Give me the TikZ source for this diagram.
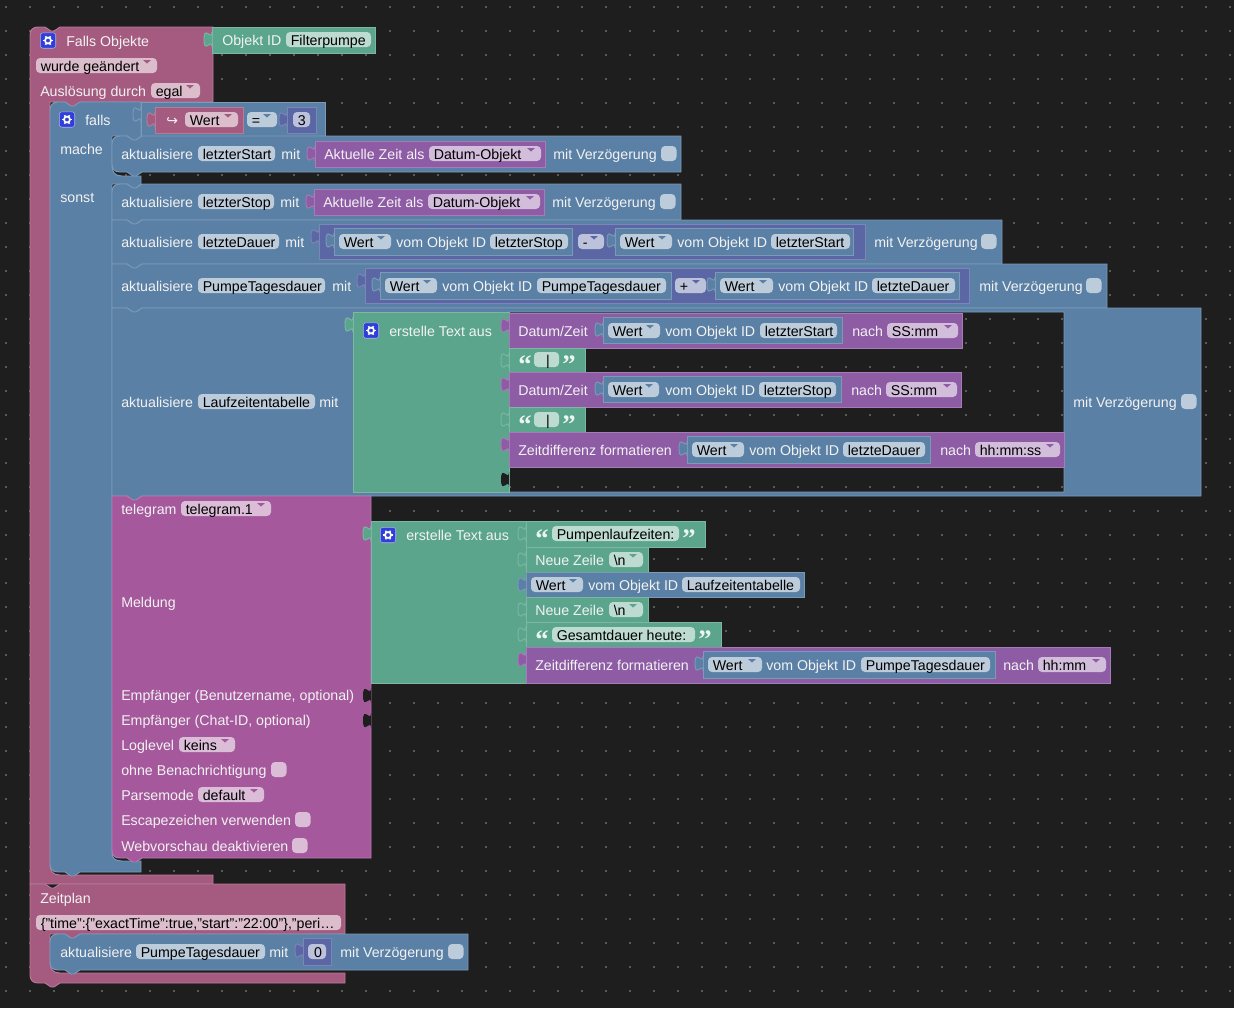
\documentclass[tikz,border=0pt]{standalone}
\usepackage{fontspec}
\setmainfont{Liberation Sans}
\newfontfamily\quotefont{Liberation Serif}
\newfontfamily\symfont{DejaVu Sans}
\definecolor{bgdark}{HTML}{1E1E1E}
\definecolor{griddot}{HTML}{5A5A5A}
\definecolor{pk}{HTML}{A55B80}
\definecolor{bl}{HTML}{5B80A5}
\definecolor{gr}{HTML}{5BA58C}
\definecolor{pu}{HTML}{8E5BA5}
\definecolor{mg}{HTML}{A5599C}
\definecolor{ind}{HTML}{5B67A5}
\definecolor{cogblue}{HTML}{2F3FD8}
\tikzset{
	blockbox/.style={fill=#1, draw=#1!80!white, line width=0.7pt, even odd rule},
	labeltxt/.style={anchor=base west, inner sep=0pt, text=white!95!black, font=\fontsize{10.65}{12}\selectfont},
	pilltxt/.style={anchor=base west, inner sep=0pt, text=black, font=\fontsize{10.65}{12}\selectfont},
	quotetxt/.style={anchor=base, inner sep=0pt, text=white!88!gr, font=\quotefont\bfseries\fontsize{20}{20}\selectfont},
	cogbox/.style={draw=white!60!cogblue, fill=cogblue, rounded corners=2pt, line width=0.4pt, minimum size=11.6pt, inner sep=0pt},
}
\newcommand{\lab}[3]{\node[labeltxt] (lab-#1-#2) at ({#1},{#2+5}) {#3};}
\newcommand{\pill}[5]{
	\fill[#1!40!white, rounded corners=3pt] ({#2},{#4-8}) rectangle ({#3},{#4+7});
	\node[pilltxt] (pill-#2-#4) at ({#2+4.5},{#4+5}) {#5};
}
\newcommand{\dpill}[5]{
	\pill{#1}{#2}{#3}{#4}{#5}
	\fill[#1] ({#3-14},{#4-6}) -- ({#3-6},{#4-6}) -- ({#3-10},{#4-2.5}) -- cycle;
}
\newcommand{\chk}[3]{\fill[#1!40!white, rounded corners=3pt] ({#2},{#3-8}) rectangle ({#2+15.5},{#3+7});}
\newcommand{\tabin}[3]{
	\draw[blockbox=#1] ({#2},{#3}) .. controls ({#2},{#3+10}) and ({#2-8},{#3-8}) .. ({#2-8},{#3+7.5})
		.. controls ({#2-8},{#3+23}) and ({#2},{#3+5}) .. ({#2},{#3+15});
}
\newcommand{\tabhole}[2]{
	\fill[bgdark] ({#1},{#2}) .. controls ({#1},{#2+10}) and ({#1-8},{#2-8}) .. ({#1-8},{#2+7.5})
		.. controls ({#1-8},{#2+23}) and ({#1},{#2+5}) .. ({#1},{#2+15}) -- cycle;
}
\newcommand{\valuebox}[5]{
	\tabin{#1}{#2}{#3+5}
	\draw[blockbox=#1] ({#2},{#3}) rectangle ({#4},{#5});
}
% colour, x1, y1, x2, y2, corner top, corner bottom
\newcommand{\stmt}[8][]{
	\draw[blockbox=#2] ({#3+15},{#4}) -- ({#3+21},{#4+4}) -- ({#3+24},{#4+4}) -- ({#3+30},{#4}) -- ({#5},{#4}) -- ({#5},{#6})
		-- ({#3+30},{#6}) -- ({#3+24},{#6+4}) -- ({#3+21},{#6+4}) -- ({#3+15},{#6}) -- ({#3+#8},{#6})
		.. controls ({#3+#8/3},{#6}) and ({#3},{#6-#8/3}) .. ({#3},{#6-#8}) -- ({#3},{#4+#7})
		.. controls ({#3},{#4+#7/3}) and ({#3+#7/3},{#4}) .. ({#3+#7},{#4}) -- cycle #1;
}
\newcommand{\cogbtn}[2]{
	\node[cogbox] (cog-#1-#2) at ({#1},{#2}) {};
	\foreach \ang in {0,60,...,300}
		\draw[white, line width=1.1pt] ({#1+2.5*cos(\ang)},{#2+2.5*sin(\ang)}) -- ({#1+5*cos(\ang)},{#2+5*sin(\ang)});
	\draw[white, line width=1.3pt] (#1,#2) circle[radius=3];
}
\newcommand{\quotes}[3]{
	\node[quotetxt] (qa-#1-#3) at ({#1},{#3+13}) {“};
	\node[quotetxt] (qb-#2-#3) at ({#2},{#3+13}) {”};
}
\newcommand{\objval}[7]{% x1 x2 y, pill x1 x2, text x, pill end
	\dpill{bl}{#1}{#2}{#3}{Wert}
	\lab{#4}{#3}{vom Objekt ID}
	\pill{bl}{#5}{#6}{#3}{#7}
}

\begin{document}
\begin{tikzpicture}[x=0.75pt,y=-0.75pt]
	\fill[bgdark] (0,0) rectangle (1234,1008);
	\useasboundingbox (0,0) rectangle (1234,1008);
	\foreach \dx in {6,30,...,1230}
		\foreach \dy in {7,31,...,1003}
			\fill[griddot] (\dx-0.7,\dy-0.7) rectangle (\dx+0.7,\dy+0.7);

	% hat block
	\draw[blockbox=pk] (45,27) -- (51,31) -- (54,31) -- (60,27) -- (213,27) -- (213,102) -- (80,102) -- (74,106) -- (71,106) -- (65,102)
		-- (50,102) -- (50,865) .. controls (50,871) and (53,875) .. (60,875) -- (213,875) -- (213,884) -- (30,884)
		-- (30,35) .. controls (30,30) and (33,27) .. (38,27) -- cycle;
	\cogbtn{48}{40.5}
	\lab{66}{41}{Falls Objekte}
	\valuebox{gr}{212}{27}{375}{53}
	\lab{222}{40}{Objekt ID}
	\pill{gr}{286}{371}{40}{Filterpumpe}
	\dpill{pk}{36}{157}{66}{wurde geändert}
	\lab{40}{91}{Auslösung durch}
	\dpill{pk}{151}{200}{91}{egal}

	% falls block
	\draw[blockbox=bl] (65,102) -- (71,106) -- (74,106) -- (80,102) -- (141,102) -- (141,136) -- (142,136) -- (136,140) -- (133,140) -- (127,136)
		-- (112,136) -- (112,166) .. controls (112,172) and (115,176) .. (122,176) -- (141,176) -- (141,184) -- (136,188) -- (133,188) -- (127,184)
		-- (112,184) -- (112,853) .. controls (112,858) and (115,861) .. (122,861) -- (141,861) -- (141,872) -- (80,872) -- (74,876) -- (71,876) -- (65,872)
		-- (58,872) .. controls (53,872) and (50,869) .. (50,864) -- (50,110) .. controls (50,105) and (53,102) .. (58,102) -- cycle;
	\cogbtn{67}{119.5}
	\lab{85}{120}{falls}
	\lab{60}{149}{mache}
	\lab{60}{197}{sonst}
	\valuebox{bl}{141}{102}{325}{136}
	\valuebox{pk}{155}{107}{243}{133}
	\node[labeltxt, font=\symfont\fontsize{10.5}{12}\selectfont] (arrow-wert) at (166,125) {↪};
	\dpill{pk}{185}{238}{120}{Wert}
	\dpill{bl}{247}{277}{120}{=}
	\valuebox{ind}{287}{107}{316}{133}
	\pill{ind}{293}{310}{120}{3}

	% mache
	\stmt{bl}{112}{136}{681}{172}{8}{8}
	\lab{121}{154}{aktualisiere}
	\pill{bl}{198}{275}{154}{letzterStart}
	\lab{281}{154}{mit}
	\valuebox{pu}{315}{141}{545}{167}
	\lab{324}{154}{Aktuelle Zeit als}
	\dpill{pu}{429}{541}{154}{Datum-Objekt}
	\lab{553}{154}{mit Verzögerung}
	\chk{bl}{661}{154}

	% sonst
	\stmt{bl}{112}{184}{681}{220}{8}{0}
	\lab{121}{202}{aktualisiere}
	\pill{bl}{198}{274}{202}{letzterStop}
	\lab{280}{202}{mit}
	\valuebox{pu}{314}{189}{544}{215}
	\lab{323}{202}{Aktuelle Zeit als}
	\dpill{pu}{428}{540}{202}{Datum-Objekt}
	\lab{552}{202}{mit Verzögerung}
	\chk{bl}{660}{202}

	\stmt{bl}{112}{220}{1002}{264}{0}{0}
	\lab{121}{242}{aktualisiere}
	\pill{bl}{198}{279}{242}{letzteDauer}
	\lab{285}{242}{mit}
	\valuebox{ind}{319}{224}{865}{259}
	\valuebox{bl}{334}{228}{572}{255}
	\objval{339}{391}{242}{396}{490}{568}{letzterStop}
	\dpill{ind}{578}{604}{242}{-}
	\valuebox{bl}{615}{228}{853}{255}
	\objval{620}{672}{242}{677}{771}{850}{letzterStart}
	\lab{874}{242}{mit Verzögerung}
	\chk{bl}{981}{242}

	\stmt{bl}{112}{264}{1107}{308}{0}{0}
	\lab{121}{286}{aktualisiere}
	\pill{bl}{198}{325}{286}{PumpeTagesdauer}
	\lab{332}{286}{mit}
	\valuebox{ind}{365}{268}{969}{303}
	\valuebox{bl}{380}{272}{671}{299}
	\objval{385}{437}{286}{442}{537}{666}{PumpeTagesdauer}
	\dpill{ind}{675}{706}{286}{+}
	\valuebox{bl}{715}{272}{959}{299}
	\objval{720}{773}{286}{778}{872}{955}{letzteDauer}
	\lab{979}{286}{mit Verzögerung}
	\chk{bl}{1086}{286}

	\stmt[(509,312) rectangle (1064,492)]{bl}{112}{308}{1201}{496}{0}{0}
	\lab{121}{402}{aktualisiere}
	\pill{bl}{198}{315}{402}{Laufzeitentabelle}
	\lab{319}{402}{mit}
	\lab{1073}{402}{mit Verzögerung}
	\chk{bl}{1181}{402}
	\valuebox{gr}{353}{312}{509}{492}
	\cogbtn{371}{330.5}
	\lab{389}{331}{erstelle Text aus}
	\valuebox{pu}{509}{313}{962}{348}
	\lab{518}{331}{Datum/Zeit}
	\valuebox{bl}{603}{317}{842}{343}
	\objval{608}{660}{331}{665}{760}{837}{letzterStart}
	\lab{852}{331}{nach}
	\dpill{pu}{887}{958}{331}{SS:mm}
	\valuebox{gr}{509}{348}{585}{372}
	\quotes{525}{569}{360}
	\pill{gr}{534}{559}{360}{\hspace{5.5pt}|}
	\valuebox{pu}{509}{372}{961}{407}
	\lab{518}{390}{Datum/Zeit}
	\valuebox{bl}{603}{376}{841}{402}
	\objval{608}{659}{390}{665}{759}{836}{letzterStop}
	\lab{851}{390}{nach}
	\dpill{pu}{886}{957}{390}{SS:mm}
	\valuebox{gr}{509}{407}{585}{432}
	\quotes{525}{569}{420}
	\pill{gr}{534}{559}{420}{\hspace{5.5pt}|}
	\valuebox{pu}{509}{432}{1064}{467}
	\lab{518}{450}{Zeitdifferenz formatieren}
	\valuebox{bl}{687}{436}{930}{463}
	\objval{692}{744}{450}{749}{843}{925}{letzteDauer}
	\lab{940}{450}{nach}
	\dpill{pu}{975}{1060}{450}{hh:mm:ss}
	\tabhole{509}{472}

	% telegram
	\stmt{mg}{112}{496}{371}{858}{0}{8}
	\lab{121}{509}{telegram}
	\dpill{mg}{181}{271}{509}{telegram.1}
	\lab{121}{602}{Meldung}
	\valuebox{gr}{371}{521}{526}{683}
	\cogbtn{388}{535}
	\lab{406}{535}{erstelle Text aus}
	\valuebox{gr}{526}{521}{705}{547}
	\quotes{542}{689}{534}
	\pill{gr}{552}{679}{534}{Pumpenlaufzeiten:}
	\valuebox{gr}{526}{547}{648}{572}
	\lab{535}{560}{Neue Zeile}
	\dpill{gr}{609}{643}{560}{\textbackslash n}
	\valuebox{bl}{526}{572}{804}{597}
	\objval{531}{583}{585}{588}{682}{800}{Laufzeitentabelle}
	\valuebox{gr}{526}{597}{648}{622}
	\lab{535}{610}{Neue Zeile}
	\dpill{gr}{609}{643}{610}{\textbackslash n}
	\valuebox{gr}{526}{622}{721}{647}
	\quotes{542}{705}{635}
	\pill{gr}{552}{695}{635}{Gesamtdauer heute:}
	\valuebox{pu}{526}{647}{1110}{683}
	\lab{535}{665}{Zeitdifferenz formatieren}
	\valuebox{bl}{703}{651}{995}{678}
	\objval{708}{762}{665}{766}{861}{990}{PumpeTagesdauer}
	\lab{1003}{665}{nach}
	\dpill{pu}{1038}{1106}{665}{hh:mm}
	\lab{121}{695}{Empfänger (Benutzername, optional)}
	\tabhole{371}{688}
	\lab{121}{720}{Empfänger (Chat-ID, optional)}
	\tabhole{371}{713}
	\lab{121}{745}{Loglevel}
	\dpill{mg}{179}{235}{745}{keins}
	\lab{121}{770}{ohne Benachrichtigung}
	\chk{mg}{271}{770}
	\lab{121}{795}{Parsemode}
	\dpill{mg}{198}{264}{795}{default}
	\lab{121}{820}{Escapezeichen verwenden}
	\chk{mg}{295}{820}
	\lab{121}{846}{Webvorschau deaktivieren}
	\chk{mg}{292}{846}

	% zeitplan
	\draw[blockbox=pk] (45,884) -- (51,888) -- (54,888) -- (60,884) -- (345,884) -- (345,934) -- (80,934) -- (74,938) -- (71,938) -- (65,934)
		-- (50,934) -- (50,963) .. controls (50,969) and (53,973) .. (60,973) -- (345,973) -- (345,983) -- (60,983) -- (54,987) -- (51,987) -- (45,983)
		-- (38,983) .. controls (33,983) and (30,980) .. (30,975) -- (30,884) -- cycle;
	\lab{40}{898}{Zeitplan}
	\pill{pk}{36}{341}{923}{\{"time":\{"exactTime":true,"start":"22:00"\},"peri…}
	\stmt{bl}{50}{934}{468}{970}{8}{8}
	\lab{60}{952}{aktualisiere}
	\pill{bl}{136}{265}{952}{PumpeTagesdauer}
	\lab{269}{952}{mit}
	\valuebox{ind}{303}{938}{331}{965}
	\pill{ind}{308}{326}{952}{\hspace{1pt}0}
	\lab{340}{952}{mit Verzögerung}
	\chk{bl}{448}{952}
\end{tikzpicture}
\end{document}
